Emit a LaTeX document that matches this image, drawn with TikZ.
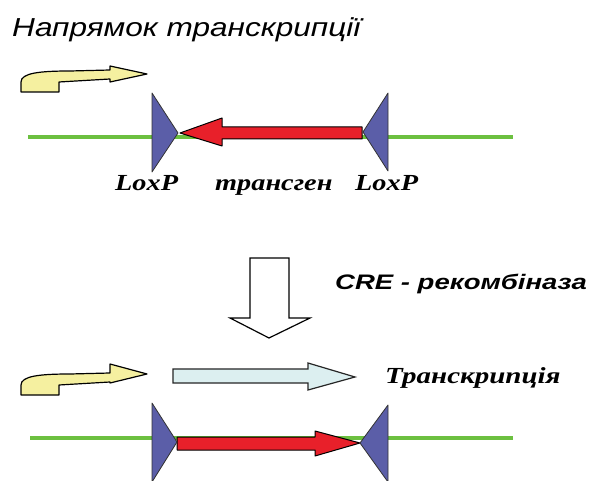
\documentclass[tikz,border=0pt]{standalone}
\usepackage{fontspec}
\setmainfont{Liberation Serif}
\setsansfont{Liberation Sans}
\definecolor{dnagreen}{HTML}{6CC040}
\definecolor{loxblue}{HTML}{5B5EA8}
\definecolor{genered}{HTML}{E8202A}
\definecolor{promyellow}{HTML}{F5F0A0}
\definecolor{txblue}{HTML}{DCEFF0}
\newcommand{\wide}[2]{\scalebox{#1}[1]{#2}}
\begin{document}
\begin{tikzpicture}[x=1pt,y=-1pt,
  dna/.style={draw=dnagreen,line width=4pt},
  lox/.style={fill=loxblue,draw=black!80,line width=0.8pt,line join=round},
  gene/.style={fill=genered,draw=black,line width=1pt,line join=round},
  prom/.style={fill=promyellow,draw=black,line width=1.2pt,line join=round},
  txarrow/.style={fill=txblue,draw=black!85,line width=1.2pt,line join=miter},
  bigarrow/.style={fill=white,draw=black,line width=1.2pt,line join=miter},
  titletext/.style={inner sep=0pt,anchor=base west,font=\sffamily\itshape\fontsize{26}{30}\selectfont},
  cretext/.style={inner sep=0pt,anchor=base west,font=\sffamily\bfseries\itshape\fontsize{21}{25}\selectfont},
  labeltext/.style={inner sep=0pt,anchor=base west,font=\rmfamily\bfseries\itshape\fontsize{23}{27}\selectfont}]
\useasboundingbox (0,0) rectangle (595,481);
\fill[white] (0,0) rectangle (595,481);
% title
\node[titletext] (title) at (12,37) {\wide{1.215}{Напрямок транскрипції}};
% top construct
\draw[dna] (28,137) -- (513,137);
\path[prom] (21,92) -- (21,82) .. controls (21,73) and (40,71) .. (70,71) -- (110,70) -- (110,66) -- (147,74) -- (110,82) -- (110,79) -- (59,82) -- (59,92) -- cycle;
\path[gene] (180,133) -- (222,118) -- (222,127) -- (362,127) -- (362,139) -- (222,139) -- (222,146) -- cycle;
\path[lox] (152,93) -- (152,172) -- (178,133) -- cycle;
\path[lox] (388,93) -- (388,171) -- (363,132) -- cycle;
\node[labeltext] (lox1) at (115,191) {\wide{1.23}{LoxP}};
\node[labeltext] (tg) at (215,191) {\wide{1.23}{трансген}};
\node[labeltext] (lox2) at (355,191) {\wide{1.23}{LoxP}};
% recombination arrow
\path[bigarrow] (250,258) -- (289,258) -- (289,318) -- (310,318) -- (269,338) -- (230,318) -- (250,318) -- cycle;
\node[cretext] (cre) at (335,290) {\wide{1.31}{CRE - рекомбіназа}};
% bottom construct
\path[prom] (21,395) -- (21,385) .. controls (21,376) and (40,374) .. (70,374) -- (110,373) -- (110,364) -- (147,374) -- (110,383) -- (110,382) -- (59,385) -- (59,395) -- cycle;
\path[txarrow] (173,369) -- (308,369) -- (308,363) -- (355,377) -- (308,390) -- (308,383) -- (173,383) -- cycle;
\node[labeltext] (tx) at (385,383) {\wide{1.26}{Транскрипція}};
\draw[dna] (30,438) -- (513,438);
\path[gene] (360,443) -- (315,431) -- (315,437) -- (177,437) -- (177,450) -- (315,450) -- (315,456) -- cycle;
\path[lox] (152,403) -- (152,482) -- (177,442) -- cycle;
\path[lox] (388,405) -- (388,482) -- (360,443) -- cycle;
\end{tikzpicture}
\end{document}
